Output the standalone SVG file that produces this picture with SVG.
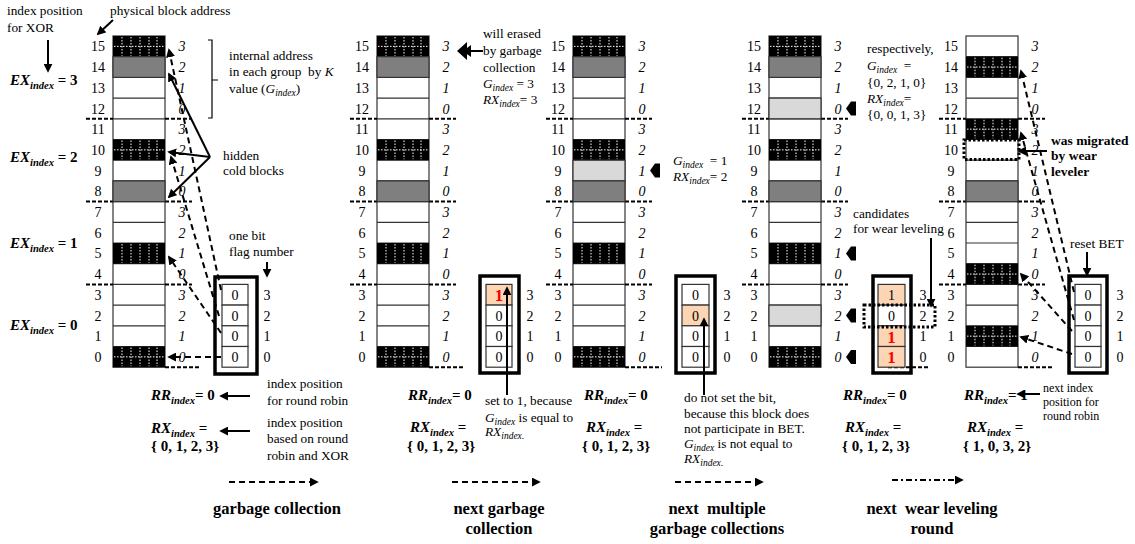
<svg xmlns="http://www.w3.org/2000/svg" width="1135" height="544" viewBox="0 0 1135 544" font-family="'Liberation Serif', 'DejaVu Serif', serif">
<style>
  text { font-family: "Liberation Serif", "Times New Roman", "DejaVu Serif", serif; fill: #000; }
  .num { font-size: 14px; text-anchor: middle; }
  .it { font-style: italic; }
  .bd { font-weight: bold; }
  .s13 { font-size: 13.3px; }
  .s12 { font-size: 12px; }
  .lbl { font-size: 16.5px; font-weight: bold; text-anchor: middle; }
  .eq { font-size: 15px; font-weight: bold; }
  .cell { stroke: #333; stroke-width: 1.2; }
  .gray { fill: #7f7f7f; }
  .lgray { fill: #d9d9d9; }
  .peach { fill: #fcd5b4; }
  .white { fill: #fff; }
  .sep { stroke: #000; stroke-width: 2; stroke-dasharray: 4 2; fill: none; }
  .dash { stroke: #000; stroke-width: 2; stroke-dasharray: 6 4; fill: none; }
  .solid { stroke: #000; stroke-width: 2; fill: none; }
  .box { fill: none; stroke: #000; stroke-width: 3.5; }
  .dots { stroke: #fff; stroke-width: 1; stroke-dasharray: 1.5 1.5; fill: none; }
  .dotted { fill: none; stroke: #000; stroke-width: 3; stroke-dasharray: 2.5 2; }
  .red { fill: #ff0000; font-weight: bold; font-size: 17px; }
</style>
<defs>
  <marker id="ah" viewBox="0 0 10 10" refX="8" refY="5" markerWidth="4.5" markerHeight="4.5" orient="auto">
    <path d="M0,0 L10,5 L0,10 z" fill="#000"/>
  </marker>
  <!-- one column of 16 physical blocks with addresses and group offsets -->
  <g id="grid">
    <rect x="0" y="36" width="52" height="331.2" class="white cell"/>
    <path class="cell" fill="none" d="M0 56.7H52M0 77.4H52M0 98.1H52M0 118.8H52M0 139.5H52M0 160.2H52M0 180.9H52M0 201.6H52M0 222.3H52M0 243H52M0 263.7H52M0 284.4H52M0 305.1H52M0 325.8H52M0 346.5H52"/>
    <g class="num">
      <text x="-15" y="51.4">15</text><text x="-15" y="72.1">14</text><text x="-15" y="92.8">13</text><text x="-15" y="113.5">12</text>
      <text x="-15" y="134.2">11</text><text x="-15" y="154.9">10</text><text x="-15" y="175.6">9</text><text x="-15" y="196.3">8</text>
      <text x="-15" y="217">7</text><text x="-15" y="237.7">6</text><text x="-15" y="258.4">5</text><text x="-15" y="279.1">4</text>
      <text x="-15" y="299.8">3</text><text x="-15" y="320.5">2</text><text x="-15" y="341.2">1</text><text x="-15" y="361.9">0</text>
    </g>
    <g class="num it">
      <text x="69" y="51.4">3</text><text x="69" y="72.1">2</text><text x="69" y="92.8">1</text><text x="69" y="113.5">0</text>
      <text x="69" y="134.2">3</text><text x="69" y="154.9">2</text><text x="69" y="175.6">1</text><text x="69" y="196.3">0</text>
      <text x="69" y="217">3</text><text x="69" y="237.7">2</text><text x="69" y="258.4">1</text><text x="69" y="279.1">0</text>
      <text x="69" y="299.8">3</text><text x="69" y="320.5">2</text><text x="69" y="341.2">1</text><text x="69" y="361.9">0</text>
    </g>
    <path class="sep" d="M-27 118.8H0M52 118.8H79M-27 201.6H0M52 201.6H79M-27 284.4H0M52 284.4H79"/>
  </g>
  <!-- hot (black) block with white dotted hatch -->
  <g id="blk">
    <rect width="52" height="20.7" fill="#000"/>
    <path class="dots" d="M9 1V19.7M18 1V19.7M27 1V19.7M36 1V19.7M44 1V19.7M1 10.35H51"/>
  </g>
  <g id="blkv">
    <rect width="52" height="20.7" fill="#000"/>
    <path class="dots" d="M9 1V19.7M18 1V19.7M27 1V19.7M36 1V19.7M44 1V19.7"/>
  </g>
  <path id="flag" d="M10 -7V7H5L0 0L5 -7Z" fill="#000"/>
</defs>

<rect width="1135" height="544" fill="#fff"/>

<!-- column 1: initial state -->
<g id="col1">
  <use href="#grid" x="113" y="0"/>
  <use href="#blk" x="113" y="36"/>
  <rect x="113" y="56.7" width="52" height="20.7" class="gray cell"/>
  <use href="#blk" x="113" y="139.5"/>
  <rect x="113" y="180.9" width="52" height="20.7" class="gray cell"/>
  <use href="#blkv" x="113" y="243"/>
  <use href="#blk" x="113" y="346.5"/>
  <path class="sep" d="M165 367.2H200"/>
  <text class="s13" x="7" y="15">index position</text>
  <text class="s13" x="7" y="32">for XOR</text>
  <text class="s13" x="110" y="15">physical block address</text>
  <text x="10" y="85" class="eq it">EX<tspan font-size="10.5" dy="4">index</tspan><tspan dy="-4" font-style="normal"> = 3</tspan></text>
  <text x="10" y="162" class="eq it">EX<tspan font-size="10.5" dy="4">index</tspan><tspan dy="-4" font-style="normal"> = 2</tspan></text>
  <text x="10" y="248" class="eq it">EX<tspan font-size="10.5" dy="4">index</tspan><tspan dy="-4" font-style="normal"> = 1</tspan></text>
  <text x="10" y="330" class="eq it">EX<tspan font-size="10.5" dy="4">index</tspan><tspan dy="-4" font-style="normal"> = 0</tspan></text>
  <path d="M208 40H212V118H208M212 80H218" fill="none" stroke="#000" stroke-width="1.2"/>
  <text class="s13" x="229" y="60">internal address</text>
  <text class="s13" x="229" y="76" xml:space="preserve">in each group  by <tspan font-style="italic">K</tspan></text>
  <text class="s13" x="229" y="93">value (<tspan font-style="italic">G</tspan><tspan font-style="italic" font-size="9.5" dy="3">index</tspan><tspan dy="-3">)</tspan></text>
  <text class="s13" x="223" y="160">hidden</text>
  <text class="s13" x="223" y="175">cold blocks</text>
  <text class="s13" x="229" y="240">one bit</text>
  <text class="s13" x="229" y="256">flag number</text>
  <text class="s13" x="267" y="388">index position</text>
  <text class="s13" x="267" y="405">for round robin</text>
  <text class="s13" x="267" y="427">index position</text>
  <text class="s13" x="267" y="443">based on round</text>
  <text class="s13" x="267" y="460">robin and XOR</text>
  <text x="151" y="400" class="eq it">RR<tspan font-size="10.5" dy="4">index</tspan><tspan dy="-4" font-style="normal">= 0</tspan></text>
  <text x="151" y="433" class="eq it">RX<tspan font-size="10.5" dy="4">index</tspan><tspan dy="-4" font-style="normal"> =</tspan></text>
  <text x="151" y="451" class="eq">{ 0, 1, 2, 3}</text>
  <text class="lbl" x="277" y="514">garbage collection</text>
</g>
<g id="bet1">
  <rect class="box" x="215" y="277" width="42" height="97"/>
  <rect class="white cell" x="222" y="284.4" width="26" height="20.7"/>
  <rect class="white cell" x="222" y="305.1" width="26" height="20.7"/>
  <rect class="white cell" x="222" y="325.8" width="26" height="20.7"/>
  <rect class="white cell" x="222" y="346.5" width="26" height="20.7"/>
  <g class="num">
    <text x="235" y="299.8">0</text><text x="235" y="320.5">0</text><text x="235" y="341.2">0</text><text x="235" y="361.9">0</text>
    <text x="267" y="299.8">3</text><text x="267" y="320.5">2</text><text x="267" y="341.2">1</text><text x="267" y="361.9">0</text>
  </g>
</g>

<!-- column 2: after garbage collection -->
<g id="col2">
  <use href="#grid" x="377" y="0"/>
  <use href="#blk" x="377" y="36"/>
  <rect x="377" y="56.7" width="52" height="20.7" class="gray cell"/>
  <use href="#blk" x="377" y="139.5"/>
  <rect x="377" y="180.9" width="52" height="20.7" class="gray cell"/>
  <use href="#blkv" x="377" y="243"/>
  <use href="#blk" x="377" y="346.5"/>
  <path class="sep" d="M429 367.2H465"/>
  <text class="s13" x="483" y="38">will erased</text>
  <text class="s13" x="483" y="55">by garbage</text>
  <text class="s13" x="483" y="72">collection</text>
  <text class="s13" x="483" y="88"><tspan font-style="italic">G</tspan><tspan font-style="italic" font-size="9.5" dy="3">index</tspan><tspan dy="-3"> = 3</tspan></text>
  <text class="s13" x="483" y="104"><tspan font-style="italic">RX</tspan><tspan font-style="italic" font-size="9.5" dy="3">index</tspan><tspan dy="-3">= 3</tspan></text>
  <text x="408" y="400" class="eq it">RR<tspan font-size="10.5" dy="4">index</tspan><tspan dy="-4" font-style="normal">= 0</tspan></text>
  <text x="410" y="432" class="eq it">RX<tspan font-size="10.5" dy="4">index</tspan><tspan dy="-4" font-style="normal"> =</tspan></text>
  <text x="407" y="451" class="eq">{ 0, 1, 2, 3}</text>
  <text class="s13" x="485" y="405">set to 1, because</text>
  <text class="s13" x="485" y="422"><tspan font-style="italic">G</tspan><tspan font-style="italic" font-size="9.5" dy="3">index</tspan><tspan dy="-3"> is equal to</tspan></text>
  <text class="s13" x="485" y="436"><tspan font-style="italic">RX</tspan><tspan font-style="italic" font-size="9.5" dy="3">index</tspan><tspan font-size="9.5">.</tspan></text>
  <text class="lbl" x="499" y="514">next garbage</text>
  <text class="lbl" x="499" y="534">collection</text>
</g>
<g id="bet2">
  <rect class="box" x="480" y="276" width="39" height="97"/>
  <rect class="peach cell" x="486" y="284.4" width="26" height="20.7"/>
  <rect class="white cell" x="486" y="305.1" width="26" height="20.7"/>
  <rect class="white cell" x="486" y="325.8" width="26" height="20.7"/>
  <rect class="white cell" x="486" y="346.5" width="26" height="20.7"/>
  <text class="red" x="499" y="301" text-anchor="middle">1</text>
  <g class="num">
    <text x="499" y="320.5">0</text><text x="499" y="341.2">0</text><text x="499" y="361.9">0</text>
    <text x="530" y="299.8">3</text><text x="530" y="320.5">2</text><text x="530" y="341.2">1</text><text x="530" y="361.9">0</text>
  </g>
</g>

<!-- column 3: after multiple garbage collections -->
<g id="col3">
  <use href="#grid" x="573" y="0"/>
  <use href="#blk" x="573" y="36"/>
  <rect x="573" y="56.7" width="52" height="20.7" class="gray cell"/>
  <use href="#blk" x="573" y="139.5"/>
  <rect x="573" y="160.2" width="52" height="20.7" class="lgray cell"/>
  <rect x="573" y="180.9" width="52" height="20.7" class="gray cell"/>
  <use href="#blkv" x="573" y="243"/>
  <use href="#blk" x="573" y="346.5"/>
  <path class="sep" d="M625 367.2H662"/>
  <use href="#flag" x="650" y="170.6"/>
  <text class="s13" x="673" y="165" xml:space="preserve"><tspan font-style="italic">G</tspan><tspan font-style="italic" font-size="9.5" dy="3">index</tspan><tspan dy="-3">  = 1</tspan></text>
  <text class="s13" x="673" y="181"><tspan font-style="italic">RX</tspan><tspan font-style="italic" font-size="9.5" dy="3">index</tspan><tspan dy="-3">= 2</tspan></text>
  <text x="584" y="400" class="eq it">RR<tspan font-size="10.5" dy="4">index</tspan><tspan dy="-4" font-style="normal">= 0</tspan></text>
  <text x="586" y="432" class="eq it">RX<tspan font-size="10.5" dy="4">index</tspan><tspan dy="-4" font-style="normal"> =</tspan></text>
  <text x="582" y="451" class="eq">{ 0, 1, 2, 3}</text>
  <text class="s13" x="684" y="402">do not set the bit,</text>
  <text class="s13" x="684" y="418">because this block does</text>
  <text class="s13" x="684" y="433">not participate in BET.</text>
  <text class="s13" x="684" y="448"><tspan font-style="italic">G</tspan><tspan font-style="italic" font-size="9.5" dy="3">index</tspan><tspan dy="-3"> is not equal to</tspan></text>
  <text class="s13" x="684" y="463"><tspan font-style="italic">RX</tspan><tspan font-style="italic" font-size="9.5" dy="3">index</tspan><tspan font-size="9.5">.</tspan></text>
  <text class="lbl" x="717" y="514" xml:space="preserve">next  multiple</text>
  <text class="lbl" x="717" y="534">garbage collections</text>
</g>
<g id="bet3">
  <rect class="box" x="676" y="276" width="39" height="97"/>
  <rect class="white cell" x="682" y="284.4" width="27" height="20.7"/>
  <rect class="peach cell" x="682" y="305.1" width="27" height="20.7"/>
  <rect class="white cell" x="682" y="325.8" width="27" height="20.7"/>
  <rect class="white cell" x="682" y="346.5" width="27" height="20.7"/>
  <g class="num">
    <text x="695.5" y="299.8">0</text><text x="695.5" y="320.5">0</text><text x="695.5" y="341.2">0</text><text x="695.5" y="361.9">0</text>
    <text x="727" y="299.8">3</text><text x="727" y="320.5">2</text><text x="727" y="341.2">1</text><text x="727" y="361.9">0</text>
  </g>
</g>

<!-- column 4: wear leveling candidates -->
<g id="col4">
  <use href="#grid" x="769" y="0"/>
  <use href="#blk" x="769" y="36"/>
  <rect x="769" y="56.7" width="52" height="20.7" class="gray cell"/>
  <rect x="769" y="98.1" width="52" height="20.7" class="lgray cell"/>
  <use href="#blk" x="769" y="139.5"/>
  <rect x="769" y="180.9" width="52" height="20.7" class="gray cell"/>
  <use href="#blkv" x="769" y="243"/>
  <rect x="769" y="305.1" width="52" height="20.7" class="lgray cell"/>
  <use href="#blk" x="769" y="346.5"/>
  <path class="sep" d="M888 367.2H928"/>
  <use href="#flag" x="846" y="108.5"/>
  <use href="#flag" x="846" y="253.4"/>
  <use href="#flag" x="846" y="315.5"/>
  <use href="#flag" x="846" y="356.9"/>
  <text class="s13" x="867" y="53">respectively,</text>
  <text class="s13" x="867" y="70" xml:space="preserve"><tspan font-style="italic">G</tspan><tspan font-style="italic" font-size="9.5" dy="3">index</tspan><tspan dy="-3">  =</tspan></text>
  <text class="s13" x="867" y="87">{0, 2, 1, 0}</text>
  <text class="s13" x="867" y="103"><tspan font-style="italic">RX</tspan><tspan font-style="italic" font-size="9.5" dy="3">index</tspan><tspan dy="-3">=</tspan></text>
  <text class="s13" x="867" y="119">{0, 0, 1, 3}</text>
  <text class="s13" x="853" y="218">candidates</text>
  <text class="s13" x="853" y="233">for wear leveling</text>
  <text x="843" y="400" class="eq it">RR<tspan font-size="10.5" dy="4">index</tspan><tspan dy="-4" font-style="normal">= 0</tspan></text>
  <text x="845" y="432" class="eq it">RX<tspan font-size="10.5" dy="4">index</tspan><tspan dy="-4" font-style="normal"> =</tspan></text>
  <text x="842" y="451" class="eq">{ 0, 1, 2, 3}</text>
  <text class="lbl" x="932" y="514" xml:space="preserve">next  wear leveling</text>
  <text class="lbl" x="932" y="534">round</text>
</g>
<g id="bet4">
  <rect class="box" x="873" y="276" width="38" height="97"/>
  <rect class="peach cell" x="878" y="284.4" width="27" height="20.7"/>
  <rect class="white cell" x="878" y="305.1" width="27" height="20.7"/>
  <rect class="peach cell" x="878" y="325.8" width="27" height="20.7"/>
  <rect class="peach cell" x="878" y="346.5" width="27" height="20.7"/>
  <text class="red" x="891.5" y="342.5" text-anchor="middle">1</text>
  <text class="red" x="891.5" y="363.2" text-anchor="middle">1</text>
  <g class="num">
    <text x="891.5" y="299.8">1</text><text x="891.5" y="320.5">0</text>
    <text x="923" y="299.8">3</text><text x="923" y="320.5">2</text><text x="923" y="341.2">1</text><text x="923" y="361.9">0</text>
  </g>
  <rect class="dotted" x="864" y="305" width="71" height="22"/>
</g>

<!-- column 5: after the wear leveling round -->
<g id="col5">
  <use href="#grid" x="966" y="0"/>
  <use href="#blk" x="966" y="56.7"/>
  <use href="#blk" x="966" y="118.8"/>
  <rect x="966" y="180.9" width="52" height="20.7" class="gray cell"/>
  <use href="#blk" x="966" y="263.7"/>
  <use href="#blk" x="966" y="325.8"/>
  <rect class="dotted" x="964" y="140" width="55" height="19.5"/>
  <path class="sep" d="M1018 367.2H1053"/>
  <text class="bd" font-size="13.5" x="1051" y="145">was migrated</text>
  <text class="bd" font-size="13.5" x="1051" y="160">by wear</text>
  <text class="bd" font-size="13.5" x="1051" y="176">leveler</text>
  <text class="s13" x="1070" y="248">reset BET</text>
  <text x="964" y="400" class="eq it">RR<tspan font-size="10.5" dy="4">index</tspan><tspan dy="-4" font-style="normal">= 1</tspan></text>
  <text x="967" y="432" class="eq it">RX<tspan font-size="10.5" dy="4">index</tspan><tspan dy="-4" font-style="normal"> =</tspan></text>
  <text x="963" y="451" class="eq">{ 1, 0, 3, 2}</text>
  <text class="s12" x="1043" y="392">next index</text>
  <text class="s12" x="1043" y="406">position for</text>
  <text class="s12" x="1043" y="420">round robin</text>
</g>
<g id="bet5">
  <rect class="box" x="1069" y="276" width="38" height="97"/>
  <rect class="white cell" x="1075" y="284.4" width="26" height="20.7"/>
  <rect class="white cell" x="1075" y="305.1" width="26" height="20.7"/>
  <rect class="white cell" x="1075" y="325.8" width="26" height="20.7"/>
  <rect class="white cell" x="1075" y="346.5" width="26" height="20.7"/>
  <g class="num">
    <text x="1088" y="299.8">0</text><text x="1088" y="320.5">0</text><text x="1088" y="341.2">0</text><text x="1088" y="361.9">0</text>
    <text x="1120" y="299.8">3</text><text x="1120" y="320.5">2</text><text x="1120" y="341.2">1</text><text x="1120" y="361.9">0</text>
  </g>
</g>

<!-- connectors -->
<g id="connectors">
  <path class="solid" marker-end="url(#ah)" d="M48 40V71"/>
  <path class="solid" marker-end="url(#ah)" d="M113 20L98 34"/>
  <path class="solid" marker-end="url(#ah)" d="M210 157L169 74"/>
  <path class="solid" marker-end="url(#ah)" d="M210 157L169 152"/>
  <path class="solid" marker-end="url(#ah)" d="M210 157L169 197"/>
  <path class="dash" marker-end="url(#ah)" d="M221 290L169 50"/>
  <path class="dash" marker-end="url(#ah)" d="M219 316L171 157"/>
  <path class="dash" marker-end="url(#ah)" d="M221 333L169 257"/>
  <path class="dash" marker-end="url(#ah)" d="M221 357H169"/>
  <path class="solid" marker-end="url(#ah)" d="M267 262V276"/>
  <path class="solid" marker-end="url(#ah)" d="M250 396H221"/>
  <path class="solid" marker-end="url(#ah)" d="M250 431H221"/>
  <path class="solid" d="M483 51H466"/>
  <path d="M457 51L467 42V60Z M463 51L471 45V57Z" fill="#000"/>
  <path class="solid" marker-end="url(#ah)" d="M507 395V288"/>
  <path class="solid" marker-end="url(#ah)" d="M704 395V319"/>
  <path class="solid" marker-end="url(#ah)" d="M931 238V306"/>
  <path class="solid" marker-end="url(#ah)" d="M1047 151H1019"/>
  <path class="solid" marker-end="url(#ah)" d="M1087 252V275"/>
  <path class="solid" marker-end="url(#ah)" d="M1040 394H1018"/>
  <path class="dash" marker-end="url(#ah)" d="M1074 292L1021 71"/>
  <path class="dash" marker-end="url(#ah)" d="M1074 320L1021 133"/>
  <path class="dash" marker-end="url(#ah)" d="M1072 331L1021 274"/>
  <path class="dash" marker-end="url(#ah)" d="M1072 354L1021 337"/>
  <path class="solid" stroke-dasharray="6 4" marker-end="url(#ah)" d="M229 482H317"/>
  <path class="solid" stroke-dasharray="6 4" marker-end="url(#ah)" d="M452 482H539"/>
  <path class="solid" stroke-dasharray="6 4" marker-end="url(#ah)" d="M675 482H762"/>
  <path class="solid" stroke-dasharray="6 3 2 3" marker-end="url(#ah)" d="M892 480H962"/>
</g>
</svg>
